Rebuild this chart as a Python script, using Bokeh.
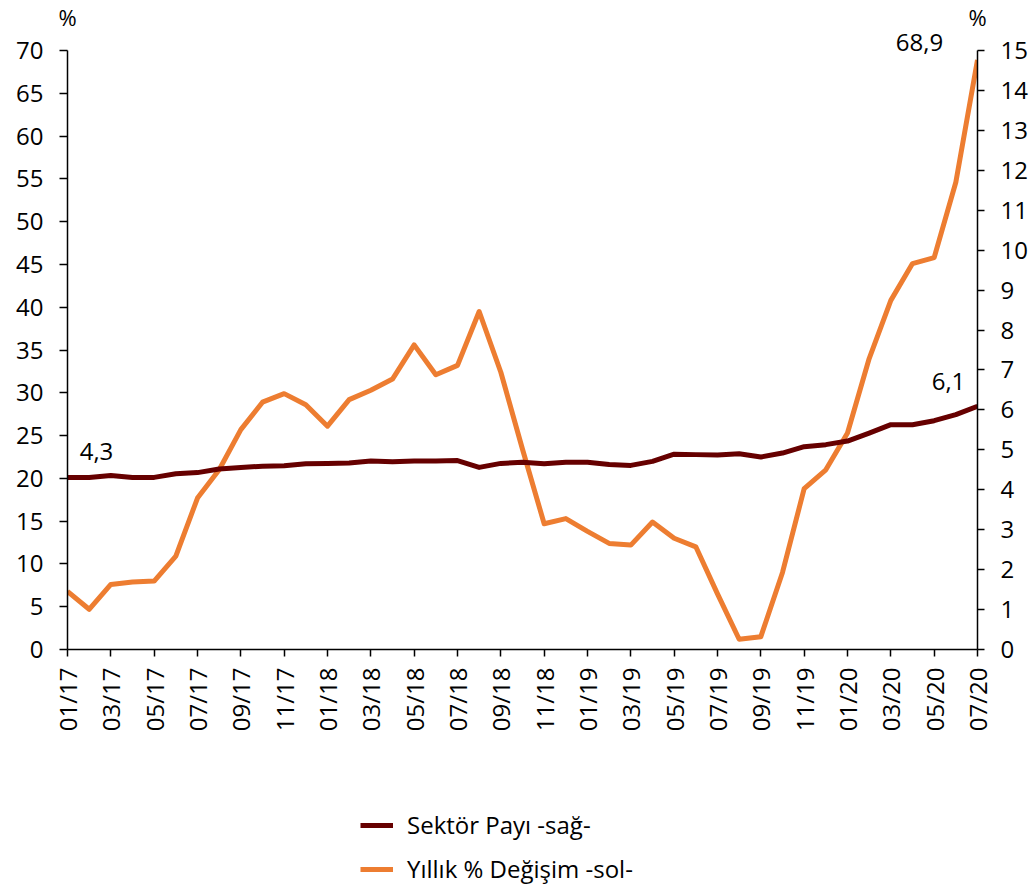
import math
from bokeh.plotting import figure
from bokeh.layouts import column
from bokeh.models import Range1d, LinearAxis, FixedTicker, Label, Legend, LegendItem
from bokeh.embed import file_html
from bokeh.resources import INLINE

months = ["01/17", "02/17", "03/17", "04/17", "05/17", "06/17", "07/17", "08/17", "09/17", "10/17", "11/17", "12/17",
          "01/18", "02/18", "03/18", "04/18", "05/18", "06/18", "07/18", "08/18", "09/18", "10/18", "11/18", "12/18",
          "01/19", "02/19", "03/19", "04/19", "05/19", "06/19", "07/19", "08/19", "09/19", "10/19", "11/19", "12/19",
          "01/20", "02/20", "03/20", "04/20", "05/20", "06/20", "07/20"]

# Yıllık % Değişim (left axis)
yillik = [6.8, 4.7, 7.6, 7.9, 8.0, 10.9, 17.7, 21.0, 25.7, 28.9, 29.9, 28.6,
          26.1, 29.2, 30.3, 31.6, 35.6, 32.1, 33.2, 39.5, 32.4, 23.4, 14.7, 15.3,
          13.8, 12.4, 12.2, 14.9, 13.0, 12.0, 6.5, 1.2, 1.5, 9.0, 18.8, 21.0,
          25.3, 34.0, 40.8, 45.1, 45.8, 54.6, 68.9]

# Sektör Payı (right axis)
sektor = [4.31, 4.31, 4.36, 4.31, 4.31, 4.40, 4.43, 4.52, 4.56, 4.59, 4.60, 4.65,
          4.66, 4.67, 4.72, 4.70, 4.72, 4.72, 4.73, 4.56, 4.66, 4.69, 4.65, 4.69,
          4.69, 4.63, 4.61, 4.71, 4.89, 4.88, 4.87, 4.90, 4.82, 4.92, 5.08, 5.13,
          5.22, 5.42, 5.63, 5.63, 5.73, 5.88, 6.09]

left_ticks = list(range(0, 75, 5))
right_ticks = list(range(0, 16))
x_ticks = list(range(0, len(months), 2))
left_max, right_max = 70, 15
unit_label = "%"
series_names = ["Sektör Payı -sağ-", "Yıllık % Değişim -sol-"]

FONT = "Open Sans"
FS = "24px"
ORANGE = "#ED7D31"
DARK = "#660000"

W = 1033
BORDER_L, BORDER_R = 67, 56
HEAD_H = 32
MAIN_TOP_EXTRA = 18       # px of frame above the 70 / 15 line
PLOT_H = 599              # px from 0 to 70
MAIN_BOTTOM = 90
MAIN_H = MAIN_TOP_EXTRA + PLOT_H + MAIN_BOTTOM
FOOT_H = 892 - HEAD_H - MAIN_H

x = list(range(len(months)))
xr = (0, len(months) - 1)
lab_kw = dict(text_font=FONT, text_font_size=FS, text_color="black")

def bare(fig):
    fig.outline_line_color = None
    fig.grid.visible = False
    return fig

# ---------- header with the "%" unit labels (own full-width frame, pixel units) ----------
head = bare(figure(width=W, height=HEAD_H, output_backend="svg", toolbar_location=None,
                   x_range=Range1d(0, W), y_range=Range1d(0, HEAD_H),
                   x_axis_type=None, y_axis_type=None,
                   min_border_left=0, min_border_right=0, min_border_top=0, min_border_bottom=0))
head.frame_align = False
pct_kw = dict(text_font=FONT, text_font_size="22px", text_color="black",
              text_align="center", text_baseline="middle")
head.add_layout(Label(x=BORDER_L, y=HEAD_H - 16, text=unit_label, **pct_kw))
head.add_layout(Label(x=W - BORDER_R, y=HEAD_H - 16, text=unit_label, **pct_kw))

# ---------- main chart ----------
ytop_left = left_max * (PLOT_H + MAIN_TOP_EXTRA) / PLOT_H
ytop_right = right_max * (PLOT_H + MAIN_TOP_EXTRA) / PLOT_H

p = bare(figure(width=W, height=MAIN_H, output_backend="svg", toolbar_location=None,
                x_range=Range1d(*xr), y_range=Range1d(0, ytop_left),
                min_border_left=BORDER_L, min_border_right=BORDER_R, min_border_top=0, min_border_bottom=MAIN_BOTTOM))
p.extra_y_ranges = {"right": Range1d(0, ytop_right)}

def style_axis(ax):
    ax.axis_line_color = "black"
    ax.axis_line_width = 1.5
    ax.major_tick_line_color = "black"
    ax.major_tick_line_width = 1.5
    ax.major_tick_in = 0
    ax.major_tick_out = 7
    ax.minor_tick_line_color = None
    ax.major_label_text_font = FONT
    ax.major_label_text_font_size = FS
    ax.major_label_text_color = "black"

xa = p.xaxis[0]
style_axis(xa)
xa.ticker = FixedTicker(ticks=x_ticks)
xa.major_label_overrides = {i: months[i] for i in x_ticks}
xa.major_label_orientation = math.pi / 2
xa.major_label_standoff = 11

ya = p.yaxis[0]
style_axis(ya)
ya.ticker = FixedTicker(ticks=left_ticks)
ya.bounds = (0, left_max)
ya.major_tick_out = 8
ya.major_label_standoff = 16

ra = LinearAxis(y_range_name="right", ticker=FixedTicker(ticks=right_ticks), bounds=(0, right_max))
style_axis(ra)
ra.major_label_standoff = 16
p.add_layout(ra, "right")

r_y = p.line(x, yillik, line_color=ORANGE, line_width=5, line_join="round")
r_s = p.line(x, sektor, line_color=DARK, line_width=5, line_join="round", y_range_name="right")

def fmt(v):
    return f"{v:.1f}".replace(".", ",")

p.add_layout(Label(x=xr[1], y=yillik[-1], text=fmt(yillik[-1]), x_offset=-58, y_offset=17,
                   text_align="center", text_baseline="alphabetic", **lab_kw))
p.add_layout(Label(x=xr[1], y=sektor[-1], text=fmt(sektor[-1]), x_offset=-29, y_offset=25,
                   text_align="center", text_baseline="alphabetic", y_range_name="right", **lab_kw))
p.add_layout(Label(x=xr[0], y=sektor[0], text=fmt(sektor[0]), x_offset=29, y_offset=26,
                   text_align="center", text_baseline="alphabetic", y_range_name="right", **lab_kw))

# ---------- footer with the legend ----------
# legend-only renderers: the series drawn against a range they never reach, so only the legend shows them
foot = bare(figure(width=W, height=FOOT_H, output_backend="svg", toolbar_location=None,
                   x_range=Range1d(*xr), y_range=Range1d(-2, -1),
                   x_axis_type=None, y_axis_type=None,
                   min_border_left=BORDER_L, min_border_right=BORDER_R, min_border_top=0, min_border_bottom=0))
d_s = foot.line(x, sektor, line_color=DARK, line_width=5)
d_y = foot.line(x, yillik, line_color=ORANGE, line_width=5)

legend = Legend(items=[LegendItem(label=series_names[0], renderers=[d_s]),
                       LegendItem(label=series_names[1], renderers=[d_y])],
                location=(293, 7), orientation="vertical")
legend.border_line_color = None
legend.background_fill_alpha = 0
legend.padding = 0
legend.margin = 0
legend.spacing = 11
legend.label_height = 22
legend.glyph_height = 22
legend.glyph_width = 33
legend.label_standoff = 14
legend.label_text_font = FONT
legend.label_text_font_size = FS
legend.label_text_color = "black"
foot.add_layout(legend)

layout = column(head, p, foot, spacing=0)
open("out.html", "w").write(file_html(layout, INLINE))
